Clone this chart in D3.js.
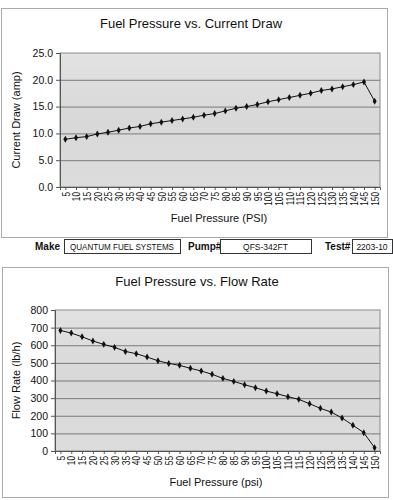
<!DOCTYPE html>
<html><head><meta charset="utf-8">
<script src="https://cdn.jsdelivr.net/npm/d3@7"></script>
<style>
body{margin:0;background:#fff;}
svg{display:block;font-family:"Liberation Sans",Arial,sans-serif;}
</style></head>
<body><svg id="c" width="393" height="500"></svg>
<script>
const pressures = [5,10,15,20,25,30,35,40,45,50,55,60,65,70,75,80,85,90,95,100,105,110,115,120,125,130,135,140,145,150];
const currentDraw = [8.9,9.2,9.4,9.9,10.2,10.6,11.0,11.3,11.8,12.1,12.4,12.7,13.0,13.4,13.7,14.2,14.7,15.0,15.4,15.9,16.3,16.7,17.1,17.5,18.0,18.3,18.7,19.1,19.6,16.0];
const flowRate = [684,669,648,624,605,588,565,552,533,512,497,486,469,454,435,412,395,376,359,340,325,308,293,268,242,221,187,146,104,19];
const currentTicks = [0,5,10,15,20,25];
const flowTicks = [0,100,200,300,400,500,600,700,800];
const infoMake = "QUANTUM FUEL SYSTEMS", infoPump = "QFS-342FT", infoTest = "2203-10";

const svg = d3.select("#c");
const defs = svg.append("defs");
const g1 = defs.append("linearGradient").attr("id","bg").attr("x1",0).attr("y1",0).attr("x2",0).attr("y2",1);
g1.append("stop").attr("offset","0%").attr("stop-color","#e2e2e2");
g1.append("stop").attr("offset","50%").attr("stop-color","#d8d8d8");
g1.append("stop").attr("offset","100%").attr("stop-color","#dcdcdc");

function chart(o){
  svg.append("rect").attr("x",o.frame[0]).attr("y",o.frame[1]).attr("width",o.frame[2]).attr("height",o.frame[3])
    .attr("fill","#fff").attr("stroke","#aaa").attr("stroke-width",1);
  const x = d3.scalePoint().domain(pressures).range([o.left,o.right]).padding(0.5);
  const y = d3.scaleLinear().domain([0,o.ymax]).range([o.bottom,o.top]);
  svg.append("rect").attr("x",o.left).attr("y",o.top).attr("width",o.right-o.left).attr("height",o.bottom-o.top)
    .attr("fill","url(#bg)").attr("stroke","#8a8a8a");
  svg.append("g").selectAll("line").data(o.ticks.filter(t=>t>0&&t<o.ymax)).join("line")
    .attr("x1",o.left).attr("x2",o.right).attr("y1",d=>y(d)+0.5).attr("y2",d=>y(d)+0.5)
    .attr("stroke","#7a7a7a").attr("stroke-width",1);
  const ya = svg.append("g").attr("transform",`translate(${o.left},0)`)
    .call(d3.axisLeft(y).tickValues(o.ticks).tickFormat(o.fmt).tickSize(4).tickPadding(3));
  ya.select(".domain").attr("stroke","#555");
  ya.selectAll("line").attr("stroke","#555");
  ya.selectAll("text").attr("font-size",10.5).attr("fill","#111").attr("font-family","Liberation Sans, Arial, sans-serif");
  const xa = svg.append("g").attr("transform",`translate(0,${o.bottom})`)
    .call(d3.axisBottom(x).tickSize(3).tickPadding(3));
  xa.select(".domain").attr("stroke","#555");
  xa.selectAll("line").attr("stroke","#555");
  xa.selectAll("text").attr("font-size",10.5).attr("fill","#111").attr("font-family","Liberation Sans, Arial, sans-serif")
    .attr("transform","rotate(-90) scale(0.8,1)").attr("text-anchor","end").attr("dy","0.35em").attr("y",0).attr("x",-6);
  const line = d3.line().x((d,i)=>x(pressures[i])).y(d=>y(d));
  svg.append("path").datum(o.values).attr("d",line).attr("fill","none").attr("stroke","#111").attr("stroke-width",1);
  svg.append("g").selectAll("path").data(o.values).join("path")
    .attr("d",d3.symbol(d3.symbolDiamond,14)())
    .attr("transform",(d,i)=>`translate(${x(pressures[i])},${y(d)})`).attr("fill","#111");
  svg.append("text").attr("x",o.titleX).attr("y",o.titleY).attr("text-anchor","middle")
    .attr("font-size",13).attr("fill","#111").text(o.title);
  svg.append("text").attr("x",o.xtX).attr("y",o.xtY).attr("text-anchor","middle")
    .attr("font-size",11).attr("fill","#111").text(o.xtitle);
  svg.append("text").attr("transform",`translate(${o.ytX},${(o.top+o.bottom)/2}) rotate(-90)`).attr("text-anchor","middle")
    .attr("font-size",11).attr("fill","#111").text(o.ytitle);
}

chart({frame:[1.5,8.5,386,229], left:60, right:380, top:53, bottom:187, ymax:25, ticks:currentTicks,
  fmt:d3.format(".1f"), values:currentDraw, title:"Fuel Pressure vs. Current Draw", titleX:191, titleY:28,
  xtitle:"Fuel Pressure (PSI)", xtX:219, xtY:222, ytitle:"Current Draw (amp)", ytX:20});
chart({frame:[2.5,267.5,386,230], left:55, right:380, top:310, bottom:451, ymax:800, ticks:flowTicks,
  fmt:d3.format("d"), values:flowRate, title:"Fuel Pressure vs. Flow Rate", titleX:197, titleY:286,
  xtitle:"Fuel Pressure (psi)", xtX:216, xtY:486, ytitle:"Flow Rate (lb/h)", ytX:20});

// info row
const info = svg.append("g").attr("fill","#111");
const rows = [
  {label:"Make", lx:35, bx:64, bw:116, val:infoMake},
  {label:"Pump#", lx:188, bx:220, bw:91, val:infoPump},
  {label:"Test#", lx:325, bx:352, bw:40, val:infoTest}
];
rows.forEach(r=>{
  info.append("text").attr("x",r.lx).attr("y",250).attr("font-weight","bold").attr("font-size",10).text(r.label);
  info.append("rect").attr("x",r.bx+0.5).attr("y",239.5).attr("width",r.bw).attr("height",14).attr("fill","#fff").attr("stroke","#333");
  info.append("text").attr("x",r.bx+r.bw/2).attr("y",250).attr("text-anchor","middle").attr("font-size",8.5)
    .attr("textLength", r.val.length>10 ? 104 : null).attr("lengthAdjust","spacingAndGlyphs").text(r.val);
});
</script></body></html>
